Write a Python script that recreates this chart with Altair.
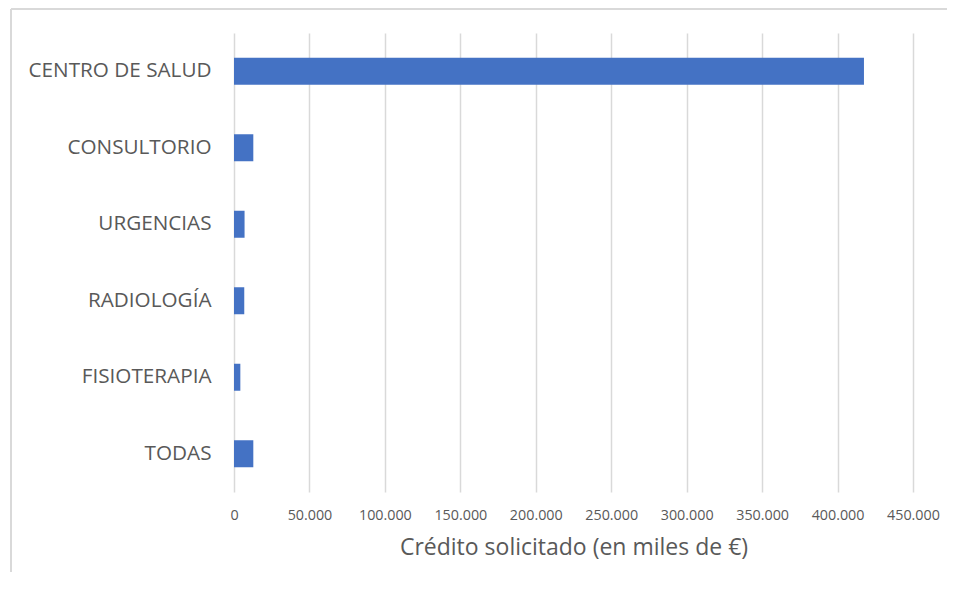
import altair as alt
import pandas as pd

categories = ["CENTRO DE SALUD", "CONSULTORIO", "URGENCIAS", "RADIOLOGÍA", "FISIOTERAPIA", "TODAS"]
values = [417500, 12800, 7000, 6800, 4200, 12800]
tick_values = [0, 50000, 100000, 150000, 200000, 250000, 300000, 350000, 400000, 450000]
x_title = "Crédito solicitado (en miles de €)"

df = pd.DataFrame({"cat": categories, "val": values})

W, H = 679, 459
PL, PT, PR, PB = 226, 25, 34, 80
FONT = "Open Sans"

bars = alt.Chart(df).mark_bar(color="#4472C4").encode(
    y=alt.Y("cat:N", sort=categories,
            scale=alt.Scale(paddingInner=0.647, paddingOuter=0.3235),
            axis=alt.Axis(title=None, domain=False, ticks=False, grid=False,
                          labelFont=FONT, labelFontSize=20.7, labelColor="#595959",
                          labelPadding=23, labelLimit=400)),
    x=alt.X("val:Q", scale=alt.Scale(domain=[0, 450000], nice=False),
            axis=alt.Axis(values=tick_values, title=x_title, domain=False, ticks=False,
                          grid=True, gridColor="#d9d9d9", gridWidth=1.5,
                          labelExpr="replace(format(datum.value, ','), ',', '.')",
                          labelFlush=False,
                          labelFont=FONT, labelFontSize=14.3, labelColor="#595959",
                          labelPadding=16, titleFont=FONT, titleFontSize=23,
                          titleFontWeight="normal", titleColor="#595959",
                          titlePadding=14)),
)

frame_top = alt.Chart(df).mark_rule(color="#d9d9d9", strokeWidth=2).encode(
    x=alt.value(-PL + 3), x2=alt.value(W + PR), y=alt.value(-PT + 1)
)
frame_left = alt.Chart(df).mark_rule(color="#d9d9d9", strokeWidth=2).encode(
    x=alt.value(-PL + 3), y=alt.value(-PT + 1), y2=alt.value(H + PB)
)

chart = alt.layer(bars, frame_top, frame_left).properties(
    width=W, height=H,
    autosize=alt.AutoSizeParams(type="none"),
    padding={"left": PL, "top": PT, "right": PR, "bottom": PB},
).configure(background="white").configure_view(stroke=None)

chart.save("out.html", embed_options={"renderer": "svg", "actions": False})
